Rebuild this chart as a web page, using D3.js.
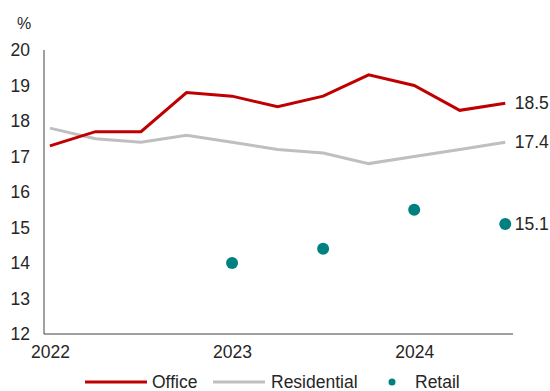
<!DOCTYPE html>
<html>
<head>
<meta charset="utf-8">
<script src="https://cdn.jsdelivr.net/npm/d3@7"></script>
<style>
  html, body { margin: 0; padding: 0; background: #fff; }
  svg text { font-family: "Liberation Sans", Arial, sans-serif; fill: #262626; }
</style>
</head>
<body>
<svg id="chart" width="550" height="391"></svg>
<script>
// Quarterly periods, 2022 Q1 to 2024 Q3
const periods = ["2022Q1","2022Q2","2022Q3","2022Q4","2023Q1","2023Q2","2023Q3","2023Q4","2024Q1","2024Q2","2024Q3"];
const office = [17.3, 17.7, 17.7, 18.8, 18.7, 18.4, 18.7, 19.3, 19.0, 18.3, 18.5];
const residential = [17.8, 17.5, 17.4, 17.6, 17.4, 17.2, 17.1, 16.8, 17.0, 17.2, 17.4];
// Retail is reported half-yearly
const retailPeriods = ["2023Q1", "2023Q3", "2024Q1", "2024Q3"];
const retail = [14.0, 14.4, 15.5, 15.1];
const yTicks = [12, 13, 14, 15, 16, 17, 18, 19, 20];
const xTickPeriods = ["2022Q1", "2023Q1", "2024Q1"];
const xTickLabels = ["2022", "2023", "2024"];

const colors = { office: "#c00000", residential: "#bfbfbf", retail: "#008080" };
const fontSize = "17.5px";

const svg = d3.select("#chart");
const plot = { left: 44, right: 513, top: 50, bottom: 334 };

const x = d3.scaleLinear().domain([-0.13, periods.length - 1 + 0.17]).range([plot.left, plot.right]);
const idx = p => periods.indexOf(p);
const y = d3.scaleLinear().domain([12, 20]).range([plot.bottom, plot.top]);

// Y axis
const yAxis = svg.append("g")
  .attr("transform", `translate(${plot.left},0)`)
  .call(d3.axisLeft(y).tickValues(yTicks).tickSize(0).tickPadding(14).tickFormat(d3.format("d")));
yAxis.select(".domain").attr("stroke", "#404040").attr("d", `M0,${plot.top}V${plot.bottom}`);
yAxis.selectAll("text").style("font-size", fontSize).attr("fill", "#262626");

// X axis
const xAxis = svg.append("g")
  .attr("transform", `translate(0,${plot.bottom})`)
  .call(d3.axisBottom(x)
    .tickValues(xTickPeriods.map(idx))
    .tickSize(0).tickPadding(12)
    .tickFormat((d, i) => xTickLabels[i]));
xAxis.select(".domain").attr("stroke", "#404040").attr("d", `M${plot.left},0H${plot.right}`);
xAxis.selectAll("text").style("font-size", fontSize).attr("fill", "#262626");

// Unit label
svg.append("text").attr("x", 17).attr("y", 29).style("font-size", "16px").text("%");

// Lines
const line = d3.line().x((d, i) => x(i)).y(d => y(d));
svg.append("path").datum(residential)
  .attr("fill", "none").attr("stroke", colors.residential).attr("stroke-width", 3)
  .attr("d", line);
svg.append("path").datum(office)
  .attr("fill", "none").attr("stroke", colors.office).attr("stroke-width", 3)
  .attr("d", line);

// Retail dots
svg.append("g").selectAll("circle")
  .data(retail)
  .join("circle")
  .attr("cx", (d, i) => x(idx(retailPeriods[i])))
  .attr("cy", d => y(d))
  .attr("r", 6)
  .attr("fill", colors.retail);

// End-of-series value labels
const endLabels = [
  { v: office[office.length - 1], xi: periods.length - 1 },
  { v: residential[residential.length - 1], xi: periods.length - 1 },
  { v: retail[retail.length - 1], xi: idx(retailPeriods[retailPeriods.length - 1]) }
];
svg.append("g").selectAll("text")
  .data(endLabels)
  .join("text")
  .attr("x", d => x(d.xi) + 9.5)
  .attr("y", d => y(d.v))
  .attr("dy", "0.35em")
  .style("font-size", fontSize)
  .text(d => d3.format(".1f")(d.v));

// Legend
const legendY = 382;
const legend = svg.append("g");
legend.append("line").attr("x1", 85).attr("x2", 147).attr("y1", legendY).attr("y2", legendY)
  .attr("stroke", colors.office).attr("stroke-width", 3);
legend.append("text").attr("x", 152).attr("y", legendY).attr("dy", "0.35em").style("font-size", fontSize).text("Office");
legend.append("line").attr("x1", 213).attr("x2", 265).attr("y1", legendY).attr("y2", legendY)
  .attr("stroke", colors.residential).attr("stroke-width", 3);
legend.append("text").attr("x", 271).attr("y", legendY).attr("dy", "0.35em").style("font-size", fontSize).text("Residential");
legend.append("circle").attr("cx", 392).attr("cy", legendY).attr("r", 3.5).attr("fill", colors.retail);
legend.append("text").attr("x", 415).attr("y", legendY).attr("dy", "0.35em").style("font-size", fontSize).text("Retail");
</script>
</body>
</html>
